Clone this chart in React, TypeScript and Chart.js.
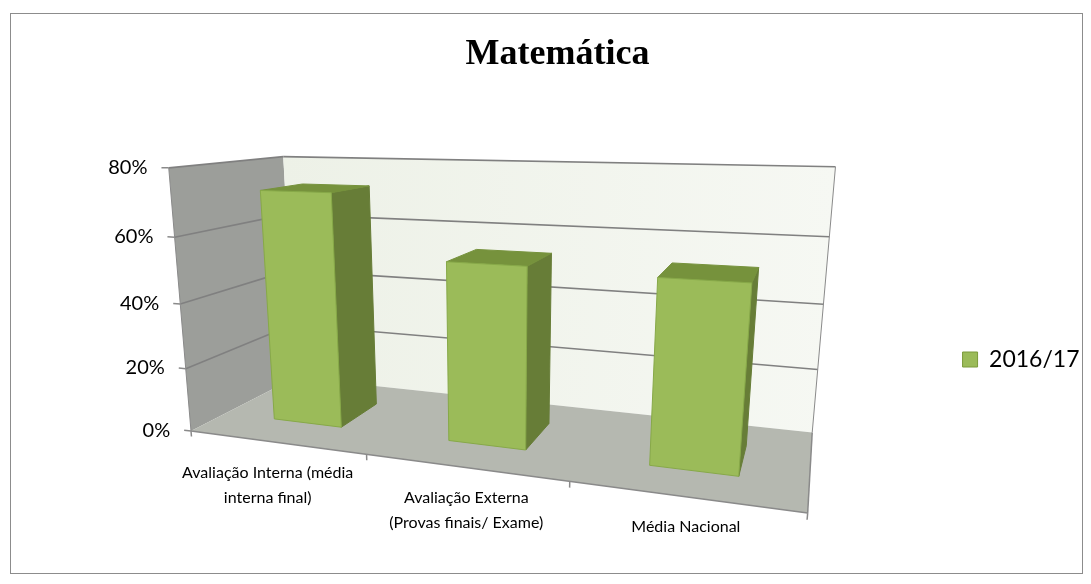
import { useEffect, useRef } from 'react';
import { Chart, registerables } from 'chart.js';

Chart.register(...registerables);

// ---- chart content -------------------------------------------------------
const chartTitle = 'Matemática';
const categoryLabels: string[][] = [
  ['Avaliação Interna (média', 'interna final)'],
  ['Avaliação Externa', '(Provas finais/ Exame)'],
  ['Média Nacional'],
];
const seriesName = '2016/17';
const seriesValues = [0.725, 0.54, 0.53];
const yTickValues = [0, 0.2, 0.4, 0.6, 0.8];
const yTickLabels = ['0%', '20%', '40%', '60%', '80%'];

// ---- styling --------------------------------------------------------------
const SANS = 'Lato, "Open Sans", sans-serif';
const SERIF = '"Liberation Serif", "DejaVu Serif", serif';

const COLORS = {
  front: '#9BBB59',
  side: '#677D37',
  top: '#76923C',
  barEdge: '#87A948',
  legendEdge: '#7A9A3A',
  sideWall: '#9C9E9A',
  floor: '#B5B8B0',
  backWallA: '#EDF1E7',
  backWallB: '#F6F8F3',
  grid: '#808080',
  edge: '#8A8A8A',
  border: '#8C8C8C',
  text: '#000000',
};

// Perspective frame of the plot box. Each row maps a world point
// (x across the categories 0..1, y share of the value axis 0..1,
//  z depth 0 = front .. 1 = back) to a canvas pixel (u, v).
const FRAME_POINTS: number[][] = [
  [0, 0, 0, 193, 431],
  [1, 0, 0, 807, 512],
  [0, 0, 1, 293, 377],
  [1, 0, 1, 813, 432],
  [0, 1, 1, 285, 158],
  [1, 1, 1, 835, 167],
  [0, 1, 0, 167, 167],
  [1 / 3, 0, 0, 367, 457],
  [2 / 3, 0, 0, 569, 483],
  [0, 0.75, 0, 174, 237],
  [0, 0.5, 0, 180, 303],
  [0, 0.25, 0, 187, 368],
  [1, 0.75, 1, 830, 237],
  [1, 0.5, 1, 823, 304],
  [1, 0.25, 1, 818, 369],
];

// Depth slice occupied by the columns.
const BAR_DEPTH: [number, number] = [0.3, 0.7];

type Pt = { x: number; y: number };

function solveLinear(A: number[][], b: number[]): number[] {
  const n = b.length;
  const M = A.map((row, i) => [...row, b[i]]);
  for (let c = 0; c < n; c++) {
    let piv = c;
    for (let r = c + 1; r < n; r++) if (Math.abs(M[r][c]) > Math.abs(M[piv][c])) piv = r;
    [M[c], M[piv]] = [M[piv], M[c]];
    for (let r = 0; r < n; r++) {
      if (r === c) continue;
      const f = M[r][c] / M[c][c];
      for (let k = c; k <= n; k++) M[r][k] -= f * M[c][k];
    }
  }
  return M.map((row, i) => row[n] / row[i]);
}

// Least-squares camera (3x4 projective matrix) through the frame points.
function fitProjection(points: number[][]) {
  const cu = 550, cv = 300, s = 500;
  const N = 11;
  const AtA = Array.from({ length: N }, () => new Array(N).fill(0));
  const Atb = new Array(N).fill(0);
  const add = (row: number[], rhs: number) => {
    for (let i = 0; i < N; i++) {
      Atb[i] += row[i] * rhs;
      for (let j = 0; j < N; j++) AtA[i][j] += row[i] * row[j];
    }
  };
  for (const [X, Y, Z, u0, v0] of points) {
    const u = (u0 - cu) / s;
    const v = (v0 - cv) / s;
    add([X, Y, Z, 1, 0, 0, 0, 0, -u * X, -u * Y, -u * Z], u);
    add([0, 0, 0, 0, X, Y, Z, 1, -v * X, -v * Y, -v * Z], v);
  }
  const p = solveLinear(AtA, Atb);
  return (X: number, Y: number, Z: number): Pt => {
    const w = p[8] * X + p[9] * Y + p[10] * Z + 1;
    return {
      x: cu + (s * (p[0] * X + p[1] * Y + p[2] * Z + p[3])) / w,
      y: cv + (s * (p[4] * X + p[5] * Y + p[6] * Z + p[7])) / w,
    };
  };
}

const project = fitProjection(FRAME_POINTS);

const box3d = {
  id: 'box3d',
  beforeDraw(chart: any) {
    const { ctx } = chart;
    ctx.save();
    ctx.fillStyle = '#ffffff';
    ctx.fillRect(0, 0, chart.width, chart.height);
    ctx.strokeStyle = COLORS.border;
    ctx.lineWidth = 1;
    ctx.strokeRect(10.5, 13.5, 1072, 560);
    ctx.restore();
  },
  beforeDatasetsDraw(chart: any) {
    const { ctx } = chart;
    const xs = chart.scales.x;
    const ys = chart.scales.y;
    const basePx = ys.getPixelForValue(ys.min);
    const topPx = ys.getPixelForValue(ys.max);
    const toY = (px: number) => (basePx - px) / (basePx - topPx);
    const toX = (px: number) => (px - xs.left) / (xs.right - xs.left);
    const P = project;

    const poly = (pts: Pt[], fill: any, stroke?: string, lw = 1) => {
      ctx.beginPath();
      pts.forEach((p, i) => (i ? ctx.lineTo(p.x, p.y) : ctx.moveTo(p.x, p.y)));
      ctx.closePath();
      ctx.fillStyle = fill;
      ctx.fill();
      if (stroke) {
        ctx.strokeStyle = stroke;
        ctx.lineWidth = lw;
        ctx.stroke();
      }
    };
    const seg = (a: Pt, b: Pt, color: string, lw: number) => {
      ctx.beginPath();
      ctx.moveTo(a.x, a.y);
      ctx.lineTo(b.x, b.y);
      ctx.strokeStyle = color;
      ctx.lineWidth = lw;
      ctx.stroke();
    };

    ctx.save();
    ctx.lineJoin = 'round';

    // walls and floor
    poly([P(0, 0, 0), P(0, 0, 1), P(0, 1, 1), P(0, 1, 0)], COLORS.sideWall);
    const bw0 = P(0, 1, 1);
    const bw1 = P(1, 1, 1);
    const grad = ctx.createLinearGradient(bw0.x, bw0.y, bw1.x, bw1.y);
    grad.addColorStop(0, COLORS.backWallA);
    grad.addColorStop(1, COLORS.backWallB);
    poly([P(0, 0, 1), P(1, 0, 1), P(1, 1, 1), P(0, 1, 1)], grad);
    poly([P(0, 0, 0), P(1, 0, 0), P(1, 0, 1), P(0, 0, 1)], COLORS.floor);

    // gridlines on side and back walls
    yTickValues.forEach((v) => {
      const y = toY(ys.getPixelForValue(v));
      if (y <= 0.001) return;
      seg(P(0, y, 0), P(0, y, 1), COLORS.grid, 1.6);
      seg(P(0, y, 1), P(1, y, 1), COLORS.grid, 1.6);
    });

    // frame edges
    seg(P(1, 1, 1), P(1, 0, 1), COLORS.edge, 1);
    seg(P(1, 0, 1), P(1, 0, 0), COLORS.edge, 1.5);
    seg(P(0, 0, 0), P(1, 0, 0), COLORS.edge, 1.5);
    seg(P(0, 0, 0), P(0, 1, 0), COLORS.edge, 1);

    // value axis ticks and labels
    ctx.font = `20px ${SANS}`;
    ctx.textAlign = 'right';
    ctx.textBaseline = 'middle';
    yTickValues.forEach((v, i) => {
      const y = toY(ys.getPixelForValue(v));
      const a = P(0, y, 0);
      const b = P(-0.014, y, 0);
      seg(a, b, COLORS.edge, 1.5);
      ctx.fillStyle = COLORS.text;
      ctx.fillText(yTickLabels[i], b.x - 14, b.y);
    });

    // category axis ticks at the slot boundaries
    const centers = categoryLabels.map((_, i) => toX(xs.getPixelForValue(i)));
    const bounds = [0];
    for (let i = 0; i < centers.length - 1; i++) bounds.push((centers[i] + centers[i + 1]) / 2);
    bounds.push(1);
    bounds.forEach((x) => seg(P(x, 0, 0), P(x, -0.022, 0), COLORS.edge, 1.5));

    // columns
    const meta = chart.getDatasetMeta(0);
    const [zf, zb] = BAR_DEPTH;
    meta.data.forEach((el: any) => {
      const xc = toX(el.x);
      const hw = el.width / 2 / (xs.right - xs.left);
      const x0 = xc - hw;
      const x1 = xc + hw;
      const yt = toY(el.y);
      const yb = toY(el.base);
      poly([P(x1, yb, zf), P(x1, yb, zb), P(x1, yt, zb), P(x1, yt, zf)], COLORS.side, COLORS.side, 1);
      poly([P(x0, yt, zf), P(x1, yt, zf), P(x1, yt, zb), P(x0, yt, zb)], COLORS.top, COLORS.top, 1);
      poly([P(x0, yb, zf), P(x1, yb, zf), P(x1, yt, zf), P(x0, yt, zf)], COLORS.front, COLORS.barEdge, 1);
    });

    // category labels
    ctx.font = `16px ${SANS}`;
    ctx.textAlign = 'center';
    ctx.fillStyle = COLORS.text;
    categoryLabels.forEach((lines, i) => {
      const a = P(centers[i], 0, 0);
      const dx = i === 0 ? -8 : 2;
      lines.forEach((t, k) => ctx.fillText(t, a.x + dx, a.y + 30 + k * 25));
    });

    ctx.restore();
    return false;
  },
};

export default function App() {
  const canvasRef = useRef<HTMLCanvasElement | null>(null);

  useEffect(() => {
    const canvas = canvasRef.current;
    if (!canvas) return;
    const chart = new Chart(canvas, {
      type: 'bar',
      data: {
        labels: categoryLabels,
        datasets: [
          {
            label: seriesName,
            data: seriesValues,
            backgroundColor: COLORS.front,
            borderColor: COLORS.legendEdge,
            borderWidth: 1,
            categoryPercentage: 1,
            barPercentage: 0.4,
          },
        ],
      },
      options: {
        responsive: true,
        maintainAspectRatio: false,
        animation: false,
        events: [],
        layout: { padding: { left: 25.5, right: 1.5, top: 0, bottom: 0 } },
        scales: {
          x: { display: false },
          y: { display: false, min: 0, max: 0.8 },
        },
        plugins: {
          title: {
            display: true,
            text: chartTitle,
            color: COLORS.text,
            font: { family: SERIF, size: 36, weight: 'bold' },
            padding: { top: 33, bottom: 58.8 },
          },
          legend: {
            position: 'right',
            fullSize: false,
            labels: {
              color: COLORS.text,
              font: { family: SANS, size: 23 },
              boxWidth: 15,
              boxHeight: 15,
            },
          },
          tooltip: { enabled: false },
        },
      },
      plugins: [box3d],
    });
    return () => chart.destroy();
  }, []);

  return (
    <div style={{ position: 'fixed', left: 0, top: 0, width: 1091, height: 584 }}>
      <canvas ref={canvasRef} />
    </div>
  );
}
